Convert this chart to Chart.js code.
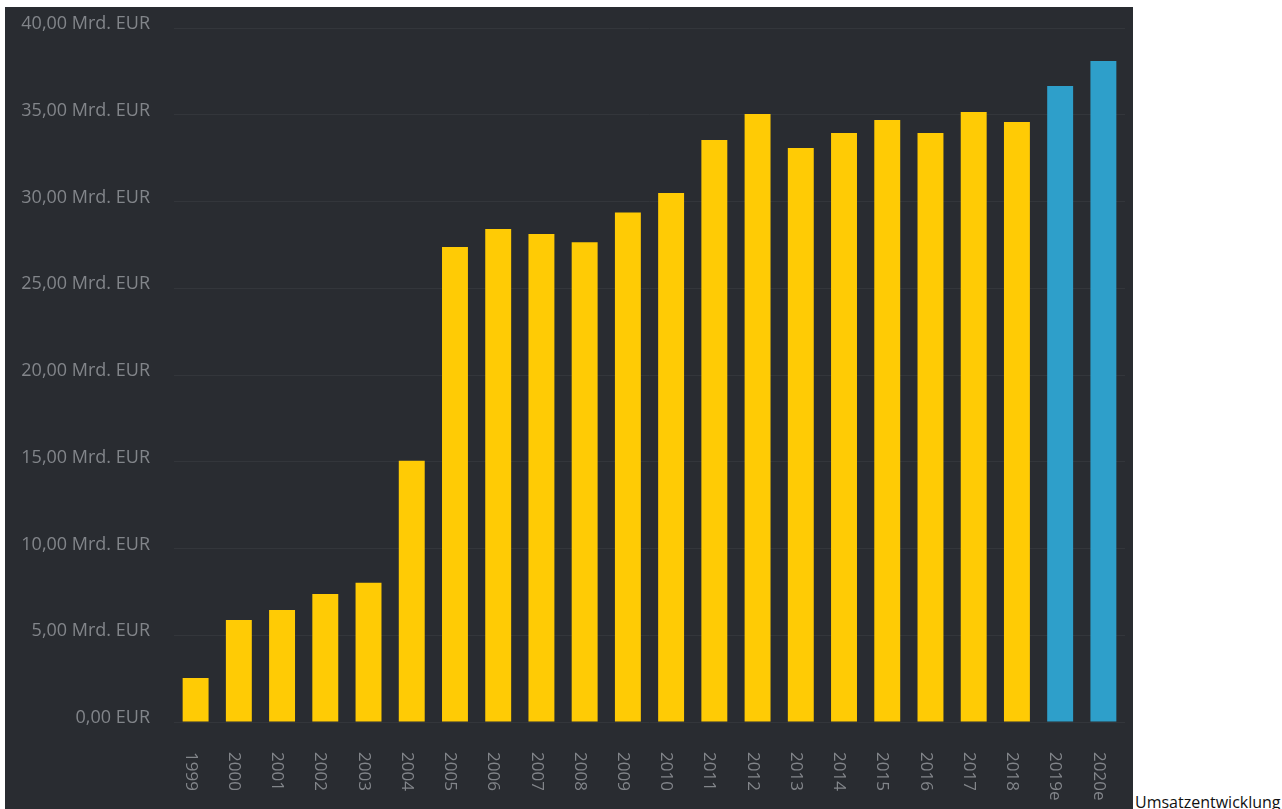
<!DOCTYPE html>
<html>
<head>
<meta charset="utf-8">
<script src="https://cdn.jsdelivr.net/npm/chart.js@4.4.1/dist/chart.umd.min.js"></script>
<style>
    body { margin: 0; background: #fff; width: 1282px; height: 809px; overflow: hidden; position: relative; }
    #box { position: absolute; left: 5px; top: 7px; width: 1128px; height: 802px; background: #292c31; }
    #caption { position: absolute; left: 1135px; top: 791px; font: 16px 'Open Sans', sans-serif; line-height: 22px; color: #111; white-space: nowrap; }
</style>
</head>
<body>
<div id="box"><canvas id="umsatzChart"></canvas></div>
<div id="caption">Umsatzentwicklung</div>
<script>
const years = ['1999', '2000', '2001', '2002', '2003', '2004', '2005', '2006', '2007', '2008', '2009',
    '2010', '2011', '2012', '2013', '2014', '2015', '2016', '2017', '2018', '2019e', '2020e'];
// Umsatz in Mrd. EUR
const revenue = [2.54, 5.88, 6.46, 7.38, 8.03, 15.06, 27.38, 28.41, 28.13, 27.65, 29.37,
    30.49, 33.54, 35.04, 33.08, 33.95, 34.7, 33.95, 35.16, 34.58, 36.66, 38.1];
const yTicks = [0, 5, 10, 15, 20, 25, 30, 35, 40];

const labelColor = '#82858a';

// x labels read top to bottom, so draw them ourselves
const verticalLabels = {
    id: 'verticalLabels',
    afterDraw(chart) {
        const ctx = chart.ctx;
        const xScale = chart.scales.x;
        ctx.save();
        ctx.fillStyle = labelColor;
        ctx.font = '17px "Open Sans", sans-serif';
        ctx.textAlign = 'left';
        ctx.textBaseline = 'middle';
        years.forEach((y, i) => {
            const px = xScale.getPixelForTick(i);
            ctx.save();
            ctx.translate(px - 5, chart.chartArea.bottom + 30);
            ctx.rotate(Math.PI / 2);
            ctx.fillText(y, 0, 0);
            ctx.restore();
        });
        ctx.restore();
    }
};

const renderChart = () => {
    const ctx = document.getElementById('umsatzChart').getContext('2d');
    const colors = years.map((y) => y.endsWith('e') ? '#2e9fca' : '#ffcb05');

    new Chart(ctx, {
        type: 'bar',
        data: {
            labels: years,
            datasets: [{
                label: 'Umsatz',
                data: revenue,
                backgroundColor: colors,
                barPercentage: 0.6,
                categoryPercentage: 1.0,
            }],
        },
        options: {
            responsive: true,
            maintainAspectRatio: false,
            animation: false,
            layout: { padding: { top: 21, right: 8, left: 0, bottom: 0 } },
            plugins: { legend: { display: false }, tooltip: { enabled: false } },
            scales: {
                x: {
                    grid: { display: false },
                    border: { display: false },
                    ticks: { display: false },
                    afterFit: (s) => { s.height = 87; },
                },
                y: {
                    min: 0,
                    max: 40,
                    afterBuildTicks: (s) => { s.ticks = yTicks.map((v) => ({ value: v })); },
                    grid: { color: '#33363b', drawTicks: false },
                    border: { display: false },
                    ticks: {
                        color: labelColor,
                        font: { family: 'Open Sans', size: 18 },
                        padding: 24,
                        labelOffset: -4,
                        callback: (v) => v === 0 ? '0,00 EUR' : v.toFixed(2).replace('.', ',') + ' Mrd. EUR',
                    },
                    afterFit: (s) => {
                        s.width = 169;
                        s.paddingTop = 0;
                        s.paddingBottom = 0;
                    },
                },
            },
        },
        plugins: [verticalLabels],
    });
};

window.addEventListener('load', renderChart);
</script>
</body>
</html>
